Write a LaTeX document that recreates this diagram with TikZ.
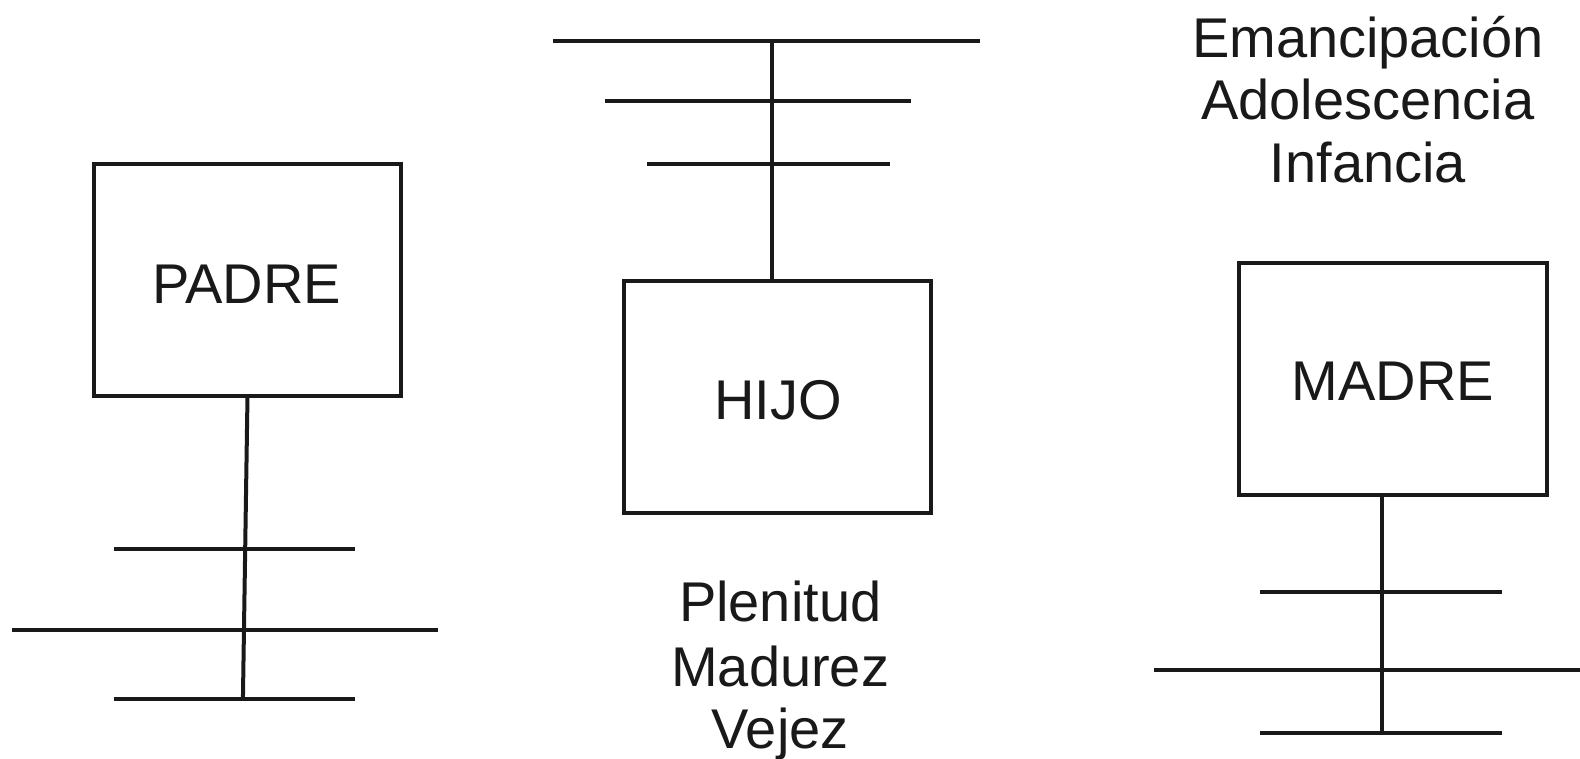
\documentclass[tikz,border=0pt]{standalone}
\usepackage{fontspec}
\setmainfont{Liberation Sans}
\begin{document}
\begin{tikzpicture}[x=0.504pt,y=-0.504pt,
  ln/.style={line width=2pt,draw=black!90},
  box/.style={ln,rectangle,minimum width=153.7pt,minimum height=115.9pt,inner sep=0pt},
  lbl/.style={anchor=base,inner sep=0pt,font=\fontsize{28}{32}\selectfont,text=black!90}]
\useasboundingbox (0,0) rectangle (1567.46,751.98);
% boxes
\node[box] (padre) at (245.5,278) {};
\node[box] (hijo) at (771.5,394) {};
\node[box] (madre) at (1382,376) {};
\node[lbl] (tpadre) at (244.5,301) {PADRE};
\node[lbl] (thijo) at (772,416) {HIJO};
\node[lbl] (tmadre) at (1382,397) {MADRE};
% padre stem
\coordinate (pbot) at (241,693);
\coordinate (p1l) at (113,545); \coordinate (p1r) at (352,545);
\coordinate (p2l) at (12,625);  \coordinate (p2r) at (435,625);
\coordinate (p3l) at (113,693); \coordinate (p3r) at (352,693);
\draw[ln] (padre.south) -- (pbot);
\draw[ln] (p1l) -- (p1r);
\draw[ln] (p2l) -- (p2r);
\draw[ln] (p3l) -- (p3r);
% hijo stem
\coordinate (htop) at (766,41);
\coordinate (h1l) at (549,41);  \coordinate (h1r) at (972,41);
\coordinate (h2l) at (600,100); \coordinate (h2r) at (904,100);
\coordinate (h3l) at (642,163); \coordinate (h3r) at (883,163);
\draw[ln] (hijo.north -| htop) -- (htop);
\draw[ln] (h1l) -- (h1r);
\draw[ln] (h2l) -- (h2r);
\draw[ln] (h3l) -- (h3r);
% madre stem
\coordinate (mbot) at (1371,727);
\coordinate (m1l) at (1250,587); \coordinate (m1r) at (1490,587);
\coordinate (m2l) at (1145,665); \coordinate (m2r) at (1570,665);
\coordinate (m3l) at (1250,727); \coordinate (m3r) at (1490,727);
\draw[ln] (madre.south -| mbot) -- (mbot);
\draw[ln] (m1l) -- (m1r);
\draw[ln] (m2l) -- (m2r);
\draw[ln] (m3l) -- (m3r);
% stage labels
\node[lbl] (e1) at (1357,57) {Emancipación};
\node[lbl] (e2) at (1357,119) {Adolescencia};
\node[lbl] (e3) at (1357,181) {Infancia};
\node[lbl] (s1) at (774,617) {Plenitud};
\node[lbl] (s2) at (774,681) {Madurez};
\node[lbl] (s3) at (774,743) {Vejez};
\end{tikzpicture}
\end{document}
